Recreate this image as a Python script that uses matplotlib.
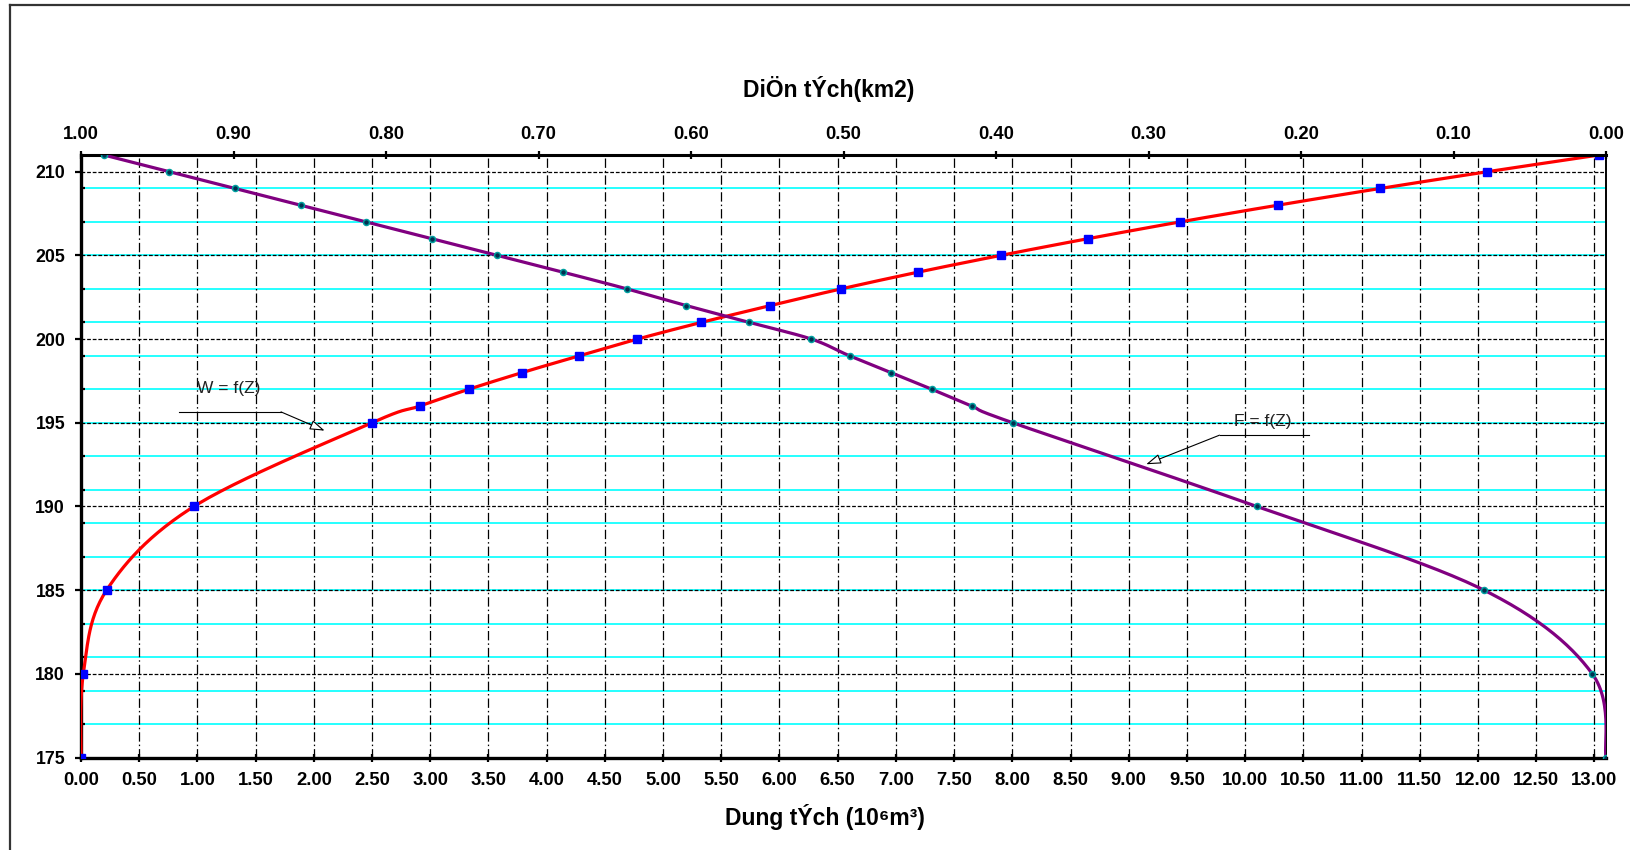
import numpy as np
import matplotlib
matplotlib.use("Agg")
import matplotlib.pyplot as plt
from matplotlib.lines import Line2D
from matplotlib.ticker import FormatStrFormatter, FixedLocator

plt.rcParams['font.family'] = ['Liberation Sans', 'DejaVu Sans']

# ---------------- data ----------------
Z_W = [175, 180, 185, 190, 195, 196, 197, 198, 199, 200, 201, 202, 203, 204,
       205, 206, 207, 208, 209, 210, 211]
W = [0.00, 0.02, 0.22, 0.97, 2.50, 2.91, 3.33, 3.79, 4.28, 4.78, 5.33, 5.92,
     6.53, 7.19, 7.90, 8.65, 9.44, 10.28, 11.16, 12.08, 13.04]

Z_F = [175, 180, 185, 190, 195, 196, 197, 198, 199, 200, 201, 202, 203, 204,
       205, 206, 207, 208, 209, 210, 211]
F = [0.000, 0.009, 0.080, 0.229, 0.389, 0.416, 0.442, 0.469, 0.496, 0.521,
     0.562, 0.603, 0.642, 0.684, 0.727, 0.770, 0.813, 0.856, 0.899, 0.942,
     0.985]

bottom_ticks = [i * 0.5 for i in range(27)]
top_ticks = [i * 0.1 for i in range(11)]
y_ticks = [175, 180, 185, 190, 195, 200, 205, 210]

label_top = "DiÖn tÝch(km2)"
label_bottom = "Dung tÝch (10⁶m³)"
name_W = "W = f(Z)"
name_F = "F = f(Z)"

# ---------------- figure ----------------
W_PX, H_PX = 1630, 850
fig = plt.figure(figsize=(W_PX / 100, H_PX / 100), dpi=100)
L, R, T, B = 81, 1606, 155, 757.5
ax = fig.add_axes([L / W_PX, 1 - B / H_PX, (R - L) / W_PX, (B - T) / H_PX])
XMAX = 13.1
YMIN, YMAX = 175, 211
ax.set_xlim(0, XMAX)
ax.set_ylim(YMIN, YMAX)
AXW, AXH = R - L, B - T


def smooth(px, py, n=30):
    P = np.column_stack([px, py]).astype(float)
    out = []
    for i in range(len(P) - 1):
        p0 = P[i - 1] if i > 0 else P[i]
        p1, p2 = P[i], P[i + 1]
        p3 = P[i + 2] if i + 2 < len(P) else P[i + 1]
        c1 = p1 + (p2 - p0) / 6
        c2 = p2 - (p3 - p1) / 6
        t = np.linspace(0, 1, n)[:, None]
        seg = (1 - t) ** 3 * p1 + 3 * (1 - t) ** 2 * t * c1 + 3 * (1 - t) * t ** 2 * c2 + t ** 3 * p2
        out.append(seg if i == 0 else seg[1:])
    return np.vstack(out)


# grid
for z in range(177, 211, 2):
    ax.axhline(z, color='#00FFFF', lw=1.2, zorder=1)
for z in y_ticks:
    ax.axhline(z, color='black', lw=0.9, ls=(0, (3.0, 1.5)), zorder=1.5)
for xv in bottom_ticks[1:]:
    ax.axvline(xv, color='black', lw=0.9, ls=(0, (7.5, 2.4, 1.2, 2.4)), zorder=1.5)

# W curve (bottom axis)
wx = np.array(W) / XMAX * AXW
wy = (np.array(Z_W) - YMIN) / (YMAX - YMIN) * AXH
sw = smooth(wx, wy)
ax.plot(sw[:, 0] / AXW * XMAX, sw[:, 1] / AXH * (YMAX - YMIN) + YMIN,
        color='#FF0000', lw=2.3, zorder=3, solid_capstyle='round')
ax.plot(W, Z_W, ls='none', marker='s', ms=5.4, mfc='#0000FF', mec='#0000FF', zorder=4)

# F curve (top axis, reversed)
ax2 = ax.twiny()
ax2.set_xlim(1.0, 0.0)
ax2.set_ylim(YMIN, YMAX)
fx = (1 - np.array(F)) * AXW
fy = (np.array(Z_F) - YMIN) / (YMAX - YMIN) * AXH
sf = smooth(fx, fy)
ax2.plot(1 - sf[:, 0] / AXW, sf[:, 1] / AXH * (YMAX - YMIN) + YMIN,
         color='#800080', lw=2.3, zorder=3, solid_capstyle='round')
ax2.plot(F, Z_F, ls='none', marker='o', ms=4.3, mfc='#003050', mec='#00A0A0',
         mew=1.1, zorder=4)

# annotations
ax.plot([0.843, 1.718], [195.65, 195.65], color='black', lw=0.8, zorder=5)
ax.annotate('', xy=(2.093, 194.53), xytext=(1.718, 195.65),
            arrowprops=dict(arrowstyle='-|>,head_length=0.9,head_width=0.3',
                            fc='white', ec='black', lw=0.8, shrinkA=0, shrinkB=0),
            zorder=5)
ax.text(1.265, 197.05, name_W, ha='center', va='center', fontsize=12.5,
        color='#222222', zorder=6)

ax.plot([10.55, 9.78], [194.26, 194.26], color='black', lw=0.8, zorder=5)
ax.annotate('', xy=(9.15, 192.52), xytext=(9.78, 194.26),
            arrowprops=dict(arrowstyle='-|>,head_length=0.9,head_width=0.3',
                            fc='white', ec='black', lw=0.8, shrinkA=0, shrinkB=0),
            zorder=5)
ax.text(10.15, 195.07, name_F, ha='center', va='center', fontsize=12.5,
        color='#222222', zorder=6)

# axes styling
ax.xaxis.set_major_locator(FixedLocator(bottom_ticks))
ax.xaxis.set_major_formatter(FormatStrFormatter('%.2f'))
ax.yaxis.set_major_locator(FixedLocator(y_ticks))
ax.yaxis.set_minor_locator(FixedLocator(list(range(177, 211, 2))))
ax2.xaxis.set_major_locator(FixedLocator(top_ticks))
ax2.xaxis.set_major_formatter(FormatStrFormatter('%.2f'))

ax.tick_params(axis='x', which='major', direction='inout', length=6, width=1.6,
               labelsize=13.3, pad=7.5)
ax.tick_params(axis='y', which='major', direction='out', length=4.5, width=1.6,
               labelsize=12.8, pad=7)
ax.tick_params(axis='y', which='minor', direction='in', length=3, width=1.6)
ax2.tick_params(axis='x', which='major', direction='inout', length=6, width=1.6,
                labelsize=13.3, pad=5.5)
for lab in ax.get_xticklabels() + ax.get_yticklabels() + ax2.get_xticklabels():
    lab.set_fontweight('bold')

for a in (ax, ax2):
    for s in a.spines.values():
        s.set_color('black')
ax.spines['left'].set_linewidth(2.4)
ax.spines['bottom'].set_linewidth(2.4)
ax.spines['top'].set_visible(False)
ax2.spines['top'].set_linewidth(2.2)
ax2.spines['left'].set_visible(False)
ax2.spines['bottom'].set_visible(False)
ax2.spines['right'].set_linewidth(1.2)
ax.spines['right'].set_linewidth(1.2)

fig.text(829 / W_PX, 1 - 89.4 / H_PX, label_top, ha='center', va='center',
         fontsize=16.5, fontweight='bold')
fig.text(825 / W_PX, 1 - 816.7 / H_PX, label_bottom, ha='center', va='center',
         fontsize=16.5, fontweight='bold')

# outer border
fig.add_artist(Line2D([10 / W_PX, 1.0], [1 - 4.7 / H_PX, 1 - 4.7 / H_PX],
                      transform=fig.transFigure, color='#333333', lw=1.6))
fig.add_artist(Line2D([10 / W_PX, 10 / W_PX], [0, 1 - 4.7 / H_PX],
                      transform=fig.transFigure, color='#333333', lw=1.6))

fig.savefig('out.png', dpi=100)
